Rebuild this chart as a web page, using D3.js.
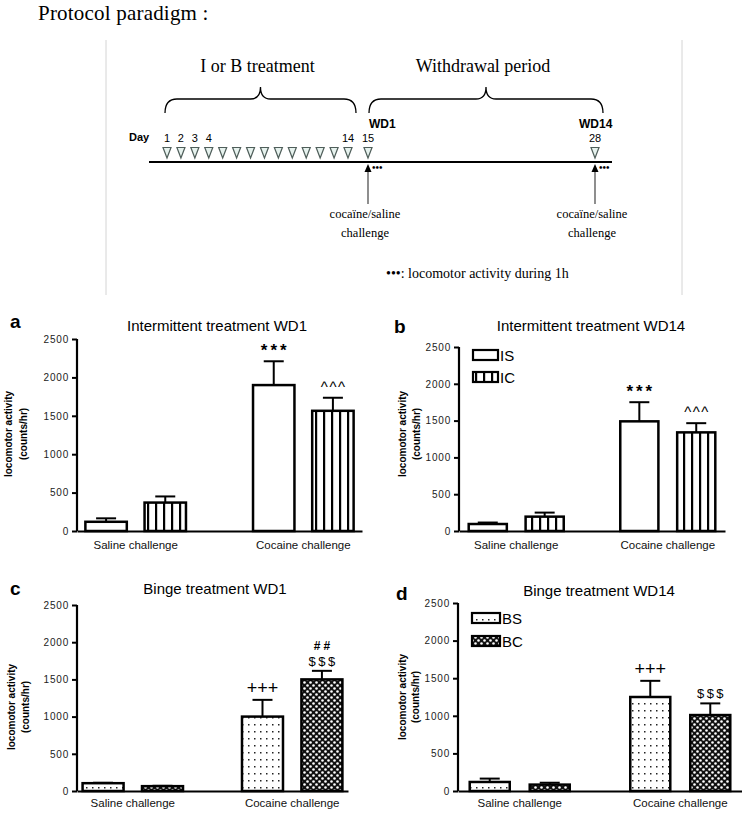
<!DOCTYPE html>
<html>
<head>
<meta charset="utf-8">
<script src="https://cdn.jsdelivr.net/npm/d3@7.9.0/dist/d3.min.js"></script>
<style>
  body { margin: 0; background: #fff; }
  svg { display: block; }
  .sans { font-family: "Liberation Sans", Arial, sans-serif; }
  .serif { font-family: "Liberation Serif", "Times New Roman", serif; }
</style>
</head>
<body>
<svg id="chart" width="742" height="813"></svg>
<script>
// ---- data ----
const challenges = ["Saline challenge", "Cocaine challenge"];
const yTicks = [0, 500, 1000, 1500, 2000, 2500];
const interSeries = ["IS", "IC"];
const bingeSeries = ["BS", "BC"];

// a: intermittent WD1
const isWD1 = [120, 1900], isWD1Err = [45, 310];
const icWD1 = [370, 1565], icWD1Err = [80, 170];
// b: intermittent WD14
const isWD14 = [95, 1490], isWD14Err = [20, 260];
const icWD14 = [195, 1340], icWD14Err = [55, 125];
// c: binge WD1
const bsWD1 = [105, 1000], bsWD1Err = [6, 225];
const bcWD1 = [65, 1500], bcWD1Err = [5, 115];
// d: binge WD14
const bsWD14 = [120, 1250], bsWD14Err = [45, 215];
const bcWD14 = [85, 1010], bcWD14Err = [25, 155];

// protocol timeline
const treatmentDays = [1, 2, 3, 4, 5, 6, 7, 8, 9, 10, 11, 12, 13, 14];
const challengeDays = [15, 28];
const labeledDays = [1, 2, 3, 4, 14, 15, 28];
const wdLabels = ["WD1", "WD14"];

const svg = d3.select("#chart");
const defs = svg.append("defs");

// patterns
const stripes = defs.append("pattern").attr("id", "stripes")
  .attr("patternUnits", "userSpaceOnUse").attr("width", 8).attr("height", 10);
stripes.append("rect").attr("width", 8).attr("height", 10).attr("fill", "#fff");
stripes.append("rect").attr("x", 3).attr("width", 2.2).attr("height", 10).attr("fill", "#000");

const dots = defs.append("pattern").attr("id", "dots")
  .attr("patternUnits", "userSpaceOnUse").attr("width", 6).attr("height", 7);
dots.append("rect").attr("width", 6).attr("height", 7).attr("fill", "#fff");
dots.append("rect").attr("x", 2).attr("y", 3).attr("width", 1.5).attr("height", 1.5).attr("fill", "#222");

const checks = defs.append("pattern").attr("id", "checks")
  .attr("patternUnits", "userSpaceOnUse").attr("width", 6).attr("height", 6);
checks.append("rect").attr("width", 6).attr("height", 6).attr("fill", "#111");
checks.append("circle").attr("cx", 1.5).attr("cy", 1.5).attr("r", 1.3).attr("fill", "#fff");
checks.append("circle").attr("cx", 4.5).attr("cy", 4.5).attr("r", 1.3).attr("fill", "#fff");

const fills = { IS: "#fff", IC: "url(#stripes)", BS: "url(#dots)", BC: "url(#checks)" };

// ---- protocol paradigm ----
svg.append("text").attr("class", "serif").attr("x", 38).attr("y", 20)
  .attr("font-size", 21).attr("letter-spacing", 0.2).text("Protocol paradigm :");

svg.selectAll("line.box").data([106, 682]).join("line").attr("class", "box")
  .attr("x1", d => d).attr("x2", d => d).attr("y1", 40).attr("y2", 295)
  .attr("stroke", "#d4d4d4").attr("stroke-width", 1);

const dayX = d3.scaleLinear().domain([1, 14, 15, 28]).range([167, 348, 368, 595]);

const braces = [
  { label: "I or B treatment", x0: dayX(1) - 2, x1: dayX(14) + 8 },
  { label: "Withdrawal period", x0: dayX(15) + 1, x1: dayX(28) + 8 }
];
braces.forEach(b => {
  const m = (b.x0 + b.x1) / 2, yb = 113, yh = 99, yp = 87;
  svg.append("path")
    .attr("d", `M${b.x0},${yb} Q${b.x0},${yh} ${b.x0 + 12},${yh} L${m - 10},${yh} Q${m},${yh} ${m},${yp} Q${m},${yh} ${m + 10},${yh} L${b.x1 - 12},${yh} Q${b.x1},${yh} ${b.x1},${yb}`)
    .attr("fill", "none").attr("stroke", "#000").attr("stroke-width", 1.3);
  svg.append("text").attr("class", "serif").attr("x", m - 3).attr("y", 72)
    .attr("text-anchor", "middle").attr("font-size", 18).text(b.label);
});

svg.selectAll("text.wd").data(challengeDays).join("text").attr("class", "wd sans")
  .attr("x", d => dayX(d) + 1 + (d === 28 ? -17 : 0)).attr("y", 128)
  .attr("font-size", 12).attr("font-weight", "bold").text((d, i) => wdLabels[i]);

svg.append("text").attr("class", "sans").attr("x", 129).attr("y", 141)
  .attr("font-size", 11).attr("font-weight", "bold").text("Day");

svg.selectAll("text.daynum").data(labeledDays).join("text").attr("class", "daynum sans")
  .attr("x", d => dayX(d)).attr("y", 142).attr("text-anchor", "middle")
  .attr("font-size", 11).text(d => d);

svg.append("line").attr("x1", 149).attr("x2", 612).attr("y1", 162).attr("y2", 162)
  .attr("stroke", "#000").attr("stroke-width", 2);

svg.selectAll("path.tri").data(treatmentDays.concat(challengeDays)).join("path").attr("class", "tri")
  .attr("d", d => `M${dayX(d) - 4},147.5 L${dayX(d) + 4},147.5 L${dayX(d)},158 Z`)
  .attr("fill", "#e6f2ee").attr("stroke", "#4f5e5a").attr("stroke-width", 1.2);

challengeDays.forEach(d => {
  const x = dayX(d);
  svg.append("line").attr("x1", x).attr("x2", x).attr("y1", 172).attr("y2", 204)
    .attr("stroke", "#444").attr("stroke-width", 1.2);
  svg.append("path").attr("d", `M${x - 3.5},172 L${x + 3.5},172 L${x},164 Z`).attr("fill", "#000");
  svg.append("text").attr("class", "serif").attr("x", x + 4).attr("y", 171)
    .attr("font-size", 10).attr("font-weight", "bold").text("•••");
  svg.append("text").attr("class", "serif").attr("x", x - 3).attr("y", 218)
    .attr("text-anchor", "middle").attr("font-size", 12.5).text("cocaïne/saline");
  svg.append("text").attr("class", "serif").attr("x", x - 3).attr("y", 237)
    .attr("text-anchor", "middle").attr("font-size", 12.5).text("challenge");
});

svg.append("text").attr("class", "serif").attr("x", 386).attr("y", 278)
  .attr("font-size", 14).text("•••: locomotor activity during 1h");

// ---- bar panels ----
const panels = [
  { letter: "a", title: "Intermittent treatment WD1", series: interSeries,
    means: [isWD1, icWD1], errs: [isWD1Err, icWD1Err],
    marks: [[[], []], [["***"], ["^^^"]]], legend: false,
    ax: 77, xEnd: 362, y0: 531, yTop: 339, letterX: 10, letterY: 328, titleX: 217, titleY: 331,
    lab1: 8, lab2: 23, labY: 434, catY: 549, po: 0.05, pi: 0.4, ipi: 0.3 },
  { letter: "b", title: "Intermittent treatment WD14", series: interSeries,
    means: [isWD14, icWD14], errs: [isWD14Err, icWD14Err],
    marks: [[[], []], [["***"], ["^^^"]]], legend: true, legY: [350, 372], legW: 25,
    ax: 459, xEnd: 725, y0: 531, yTop: 347, letterX: 394, letterY: 333, titleX: 591, titleY: 331,
    lab1: 402, lab2: 416, labY: 434, catY: 549, po: 0.064, pi: 0.373, ipi: 0.33 },
  { letter: "c", title: "Binge treatment WD1", series: bingeSeries,
    means: [bsWD1, bcWD1], errs: [bsWD1Err, bcWD1Err],
    marks: [[[], []], [["+++"], ["$$$", "##"]]], legend: false,
    ax: 77, xEnd: 348, y0: 791, yTop: 605, letterX: 10, letterY: 595, titleX: 215, titleY: 594,
    lab1: 11, lab2: 25, labY: 707, catY: 807, po: 0.035, pi: 0.37, ipi: 0.31 },
  { letter: "d", title: "Binge treatment WD14", series: bingeSeries,
    means: [bsWD14, bcWD14], errs: [bsWD14Err, bcWD14Err],
    marks: [[[], []], [["+++"], ["$$$"]]], legend: true, legY: [613, 636], legW: 28,
    ax: 458, xEnd: 742, y0: 791, yTop: 603, letterX: 396, letterY: 600, titleX: 599, titleY: 596,
    lab1: 402, lab2: 415, labY: 697, catY: 807, po: 0.073, pi: 0.377, ipi: 0.333 }
];

const markStyle = {
  "***": { size: 17, weight: "bold", ls: 3, off: 5 },
  "^^^": { size: 15, weight: "normal", ls: 1.5, off: 6 },
  "+++": { size: 18, weight: "normal", ls: 0, off: 6 },
  "$$$": { size: 13, weight: "normal", ls: 2.5, off: 5 },
  "##": { size: 12, weight: "bold", ls: 3, off: 21 }
};

panels.forEach(p => {
  const g = svg.append("g").attr("class", "sans");
  const y = d3.scaleLinear().domain([0, 2500]).range([p.y0, p.yTop]);
  const x = d3.scaleBand().domain(challenges).range([p.ax, p.xEnd])
    .paddingInner(p.pi).paddingOuter(p.po);
  const xs = d3.scaleBand().domain(p.series).range([0, x.bandwidth()]).paddingInner(p.ipi);

  g.append("text").attr("x", p.letterX).attr("y", p.letterY)
    .attr("font-size", 19).attr("font-weight", "bold").text(p.letter);
  g.append("text").attr("x", p.titleX).attr("y", p.titleY).attr("text-anchor", "middle")
    .attr("font-size", 15).text(p.title);

  // y axis
  const yAxis = g.append("g").attr("transform", `translate(${p.ax},0)`)
    .call(d3.axisLeft(y).tickValues(yTicks).tickSize(5).tickPadding(3).tickFormat(d3.format("d")));
  yAxis.select(".domain").attr("stroke-width", 2.2).attr("d", `M0,${p.yTop}V${p.y0}`);
  yAxis.selectAll(".tick line").attr("stroke-width", 2);
  yAxis.selectAll(".tick text").attr("font-size", 10).attr("letter-spacing", 0.8)
    .attr("font-family", "'Liberation Sans', Arial, sans-serif").attr("fill", "#222");

  // x axis
  const xAxis = g.append("g").attr("transform", `translate(0,${p.y0})`)
    .call(d3.axisBottom(x).tickSize(0).tickPadding(0));
  xAxis.select(".domain").attr("stroke-width", 2.2);
  xAxis.selectAll(".tick text").attr("font-size", 11.5).attr("dy", 0)
    .attr("y", p.catY - p.y0).attr("font-family", "'Liberation Sans', Arial, sans-serif")
    .attr("fill", "#111");

  // y label
  const lab = g.append("g").attr("font-weight", "bold").attr("font-size", 10);
  lab.append("text").attr("transform", `translate(${p.lab1 + 4},${p.labY}) rotate(-90)`)
    .attr("text-anchor", "middle").text("locomotor activity");
  lab.append("text").attr("transform", `translate(${p.lab2 + 4},${p.labY}) rotate(-90)`)
    .attr("text-anchor", "middle").text("(counts/hr)");

  // bars
  p.series.forEach((s, si) => {
    const rows = challenges.map((c, ci) => ({
      c, m: p.means[si][ci], e: p.errs[si][ci], marks: p.marks[ci][si]
    }));
    const bx = d => x(d.c) + xs(s);
    const cx = d => bx(d) + xs.bandwidth() / 2;
    const bars = g.append("g");
    // error bars
    bars.selectAll("line.err").data(rows).join("line").attr("class", "err")
      .attr("x1", cx).attr("x2", cx).attr("y1", d => y(d.m)).attr("y2", d => y(d.m + d.e))
      .attr("stroke", "#000").attr("stroke-width", 2);
    bars.selectAll("line.cap").data(rows).join("line").attr("class", "cap")
      .attr("x1", d => cx(d) - 10).attr("x2", d => cx(d) + 10)
      .attr("y1", d => y(d.m + d.e)).attr("y2", d => y(d.m + d.e))
      .attr("stroke", "#000").attr("stroke-width", 2);
    bars.selectAll("rect").data(rows).join("rect")
      .attr("x", bx).attr("width", xs.bandwidth())
      .attr("y", d => y(d.m)).attr("height", d => y(0) - y(d.m))
      .attr("fill", fills[s]).attr("stroke", "#000").attr("stroke-width", 2.5);
    rows.forEach(d => {
      d.marks.forEach(mk => {
        const st = markStyle[mk];
        bars.append("text").attr("x", cx(d) + st.ls / 2).attr("y", y(d.m + d.e) - st.off)
          .attr("text-anchor", "middle").attr("font-size", st.size).attr("font-weight", st.weight)
          .attr("letter-spacing", st.ls).attr("fill", "#000").text(mk);
      });
    });
  });

  // legend
  if (p.legend) {
    p.series.forEach((s, si) => {
      g.append("rect").attr("x", p.ax + 14).attr("y", p.legY[si]).attr("width", p.legW).attr("height", 10)
        .attr("fill", fills[s]).attr("stroke", "#000").attr("stroke-width", 2.2);
      g.append("text").attr("x", p.ax + 16 + p.legW).attr("y", p.legY[si] + 10.5)
        .attr("font-size", 15).text(s);
    });
  }
});
</script>
</body>
</html>
